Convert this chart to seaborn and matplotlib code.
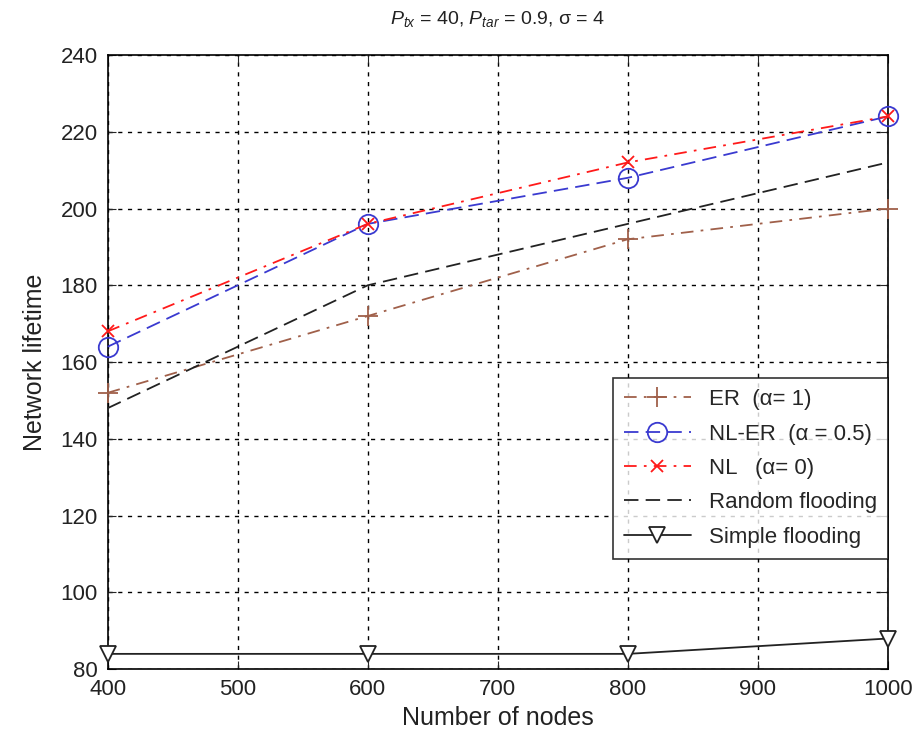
import seaborn as sns
import numpy as np
import pandas as pd
import matplotlib
matplotlib.use("Agg")
import matplotlib.pyplot as plt

nodes = [400, 600, 800, 1000]

er = [152, 172, 192, 200]
nl_er = [164, 196, 208, 224]
nl = [168, 196, 212, 224]
random_flood = [148, 180, 196, 212]
simple_flood = [84, 84, 84, 88]

labels = [
    "ER  (α= 1)",
    "NL-ER  (α = 0.5)",
    "NL   (α= 0)",
    "Random flooding",
    "Simple flooding",
]

sns.set_style("white")
plt.rcParams["font.family"] = ["Liberation Sans", "DejaVu Sans"]
plt.rcParams["mathtext.fontset"] = "custom"
plt.rcParams["mathtext.rm"] = "Liberation Sans"
plt.rcParams["mathtext.it"] = "Liberation Sans:italic"


def plot_lifetime():
    fig = plt.figure(figsize=(9.2, 7.33), dpi=100)
    ax = fig.add_axes([0.117, 0.087, 0.848, 0.838])

    styles = [
        (er, "#a0604a", (0, (7, 4, 1.5, 4)), "+", 14, "#a0604a"),
        (nl_er, "#3a3ad0", (0, (8, 4)), "o", 14, "none"),
        (nl, "#ff1a1a", (0, (7, 4, 1.5, 4)), "x", 8, "#ff1a1a"),
        (random_flood, "#222222", (0, (8, 4)), None, 0, "none"),
        (simple_flood, "#222222", "-", "v", 12, "white"),
    ]
    for (vals, color, ls, marker, ms, mfc), lab in zip(styles, labels):
        sns.lineplot(x=nodes, y=vals, ax=ax, color=color, linestyle=ls,
                     marker=marker, markersize=ms, markerfacecolor=mfc,
                     markeredgecolor=color, markeredgewidth=1.3,
                     linewidth=1.3, label=lab, clip_on=False, zorder=3)

    ax.set_xlim(400, 1000)
    ax.set_ylim(80, 240)
    ax.set_xticks(range(400, 1001, 100))
    ax.set_yticks(range(80, 241, 20))
    ax.grid(True, color="black", linestyle=(0, (3, 4)), linewidth=1.0)
    for s in ax.spines.values():
        s.set_color("black")
        s.set_linewidth(1.2)
    ax.tick_params(axis="both", labelsize=16, labelcolor="#222222",
                   direction="in", length=6,
                   top=True, right=True, bottom=True, left=True, pad=7)
    ax.set_xlabel("Number of nodes", fontsize=18, labelpad=4, color="#222222")
    ax.set_ylabel("Network lifetime", fontsize=18, labelpad=10, color="#222222")
    ax.set_title(r"$P_{tx}$ = 40, $P_{tar}$ = 0.9, σ = 4",
                 fontsize=14, pad=22, color="#222222")

    leg = ax.legend(loc="upper right", bbox_to_anchor=(1.0, 0.474),
                    fontsize=16, frameon=True, fancybox=False,
                    edgecolor="black", handlelength=3.0,
                    borderpad=0.5, labelspacing=0.6, borderaxespad=0)
    leg.get_frame().set_linewidth(1.2)

    fig.savefig("out.png", dpi=100)


if __name__ == "__main__":
    plot_lifetime()
